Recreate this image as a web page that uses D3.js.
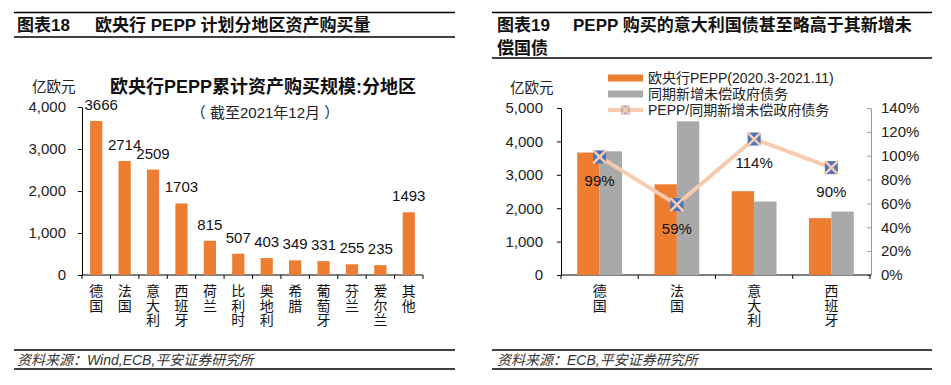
<!DOCTYPE html>
<html>
<head>
<meta charset="utf-8">
<script src="https://cdn.jsdelivr.net/npm/d3@7"></script>
<style>
  body { margin: 0; background: #fff; }
  svg { display: block; font-family: "Liberation Sans", Arial, "Noto Sans CJK SC", sans-serif; }
</style>
</head>
<body>
<svg id="chart" width="951" height="385"></svg>
<script>
// left chart: PEPP holdings by country
const regions = ["德国", "法国", "意大利", "西班牙", "荷兰", "比利时", "奥地利", "希腊", "葡萄牙", "芬兰", "爱尔兰", "其他"];
const holdings = [3666, 2714, 2509, 1703, 815, 507, 403, 349, 331, 255, 235, 1493];
const leftTicks = [0, 1000, 2000, 3000, 4000];

// right chart: PEPP vs new government debt
const countries = ["德国", "法国", "意大利", "西班牙"];
const pepp = [3666, 2714, 2509, 1703];
const newDebt = [3703, 4600, 2200, 1900];
const ratio = [0.99, 0.59, 1.14, 0.90];
const rightTicks = [0, 1000, 2000, 3000, 4000, 5000];
const pctTicks = [0, 0.2, 0.4, 0.6, 0.8, 1.0, 1.2, 1.4];
const seriesNames = ["欧央行PEPP(2020.3-2021.11)", "同期新增未偿政府债务", "PEPP/同期新增未偿政府债务"];

const orange = "#ED7D31", gray = "#A9A9A9", peach = "#F8CBAD", blue = "#4A73C0";
const cjk = "'Liberation Sans', Arial, 'Noto Sans CJK SC', sans-serif";

const svg = d3.select("#chart");

// panel frame: rules, titles, footers
function rule(x1, x2, y) {
  svg.append("line").attr("x1", x1).attr("x2", x2).attr("y1", y).attr("y2", y)
    .attr("stroke", "#000").attr("stroke-width", 1.5);
}
rule(14, 455, 12.5); rule(14, 455, 37); rule(14, 455, 350); rule(14, 455, 369);
rule(492, 932, 12.5); rule(492, 932, 58); rule(492, 932, 350); rule(492, 932, 369);

function title(x, y, t) {
  svg.append("text").attr("x", x).attr("y", y).text(t)
    .attr("font-size", 17).attr("font-weight", "bold").attr("fill", "#111");
}
title(17, 31, "图表18"); title(95, 31, "欧央行 PEPP 计划分地区资产购买量");
title(497, 31, "图表19"); title(573, 31, "PEPP 购买的意大利国债甚至略高于其新增未");
title(497, 54, "偿国债");

svg.append("text").attr("x", 17).attr("y", 365).text("资料来源：Wind,ECB,平安证券研究所")
  .attr("font-size", 14).attr("font-style", "italic").attr("fill", "#333");
svg.append("text").attr("x", 497).attr("y", 365).text("资料来源：ECB,平安证券研究所")
  .attr("font-size", 14).attr("font-style", "italic").attr("fill", "#333");

function verticalLabel(g, x, y0, label) {
  const t = g.append("text").attr("font-size", 14).attr("fill", "#111").attr("text-anchor", "middle");
  Array.from(label).forEach((ch, i) => {
    t.append("tspan").attr("x", x).attr("y", y0 + i * 14.5).text(ch);
  });
}

// ---------- left chart ----------
{
  const g = svg.append("g");
  const x = d3.scaleBand().domain(regions).range([82, 423]).paddingInner(0.57).paddingOuter(0.285);
  const y = d3.scaleLinear().domain([0, 4000]).range([275, 107]);

  g.append("g").attr("transform", "translate(82,0)")
    .call(d3.axisLeft(y).tickValues(leftTicks).tickFormat(d3.format(",")).tickSize(4).tickSizeOuter(0).tickPadding(12))
    .call(a => a.selectAll("text").attr("font-size", 15).attr("fill", "#222").attr("font-family", cjk))
    .call(a => a.selectAll("line,path").attr("stroke", "#000"));

  g.append("line").attr("x1", 82).attr("x2", 423).attr("y1", 275).attr("y2", 275).attr("stroke", "#000");
  const step = x.step();
  d3.range(regions.length + 1).forEach(i => {
    const xx = 82 + i * step;
    g.append("line").attr("x1", xx).attr("x2", xx).attr("y1", 275).attr("y2", 279).attr("stroke", "#000");
  });

  g.selectAll("rect.bar").data(holdings).join("rect").attr("class", "bar")
    .attr("x", (d, i) => x(regions[i])).attr("width", x.bandwidth())
    .attr("y", d => y(d)).attr("height", d => 275 - y(d)).attr("fill", orange);

  g.selectAll("text.val").data(holdings).join("text").attr("class", "val")
    .attr("x", (d, i) => x(regions[i]) + x.bandwidth() / 2 + (i === 0 ? 5 : 0))
    .attr("y", d => y(d) - 11).attr("text-anchor", "middle")
    .attr("font-size", 15).attr("fill", "#111").text(d => d);

  regions.forEach(r => verticalLabel(g, x(r) + x.bandwidth() / 2, 296, r));

  g.append("text").attr("x", 32).attr("y", 92).text("亿欧元").attr("font-size", 14.5).attr("fill", "#222");
  g.append("text").attr("x", 263).attr("y", 93).attr("text-anchor", "middle")
    .text("欧央行PEPP累计资产购买规模:分地区").attr("font-size", 18).attr("font-weight", "bold").attr("fill", "#111");
  g.append("text").attr("x", 265).attr("y", 118).attr("text-anchor", "middle")
    .text("（ 截至2021年12月 ）").attr("font-size", 15).attr("fill", "#222");
}

// ---------- right chart ----------
{
  const g = svg.append("g");
  const x0 = d3.scaleBand().domain(countries).range([561, 870]).paddingInner(0.42).paddingOuter(0.21);
  const x1 = d3.scaleBand().domain([0, 1]).range([0, x0.bandwidth()]);
  const y = d3.scaleLinear().domain([0, 5000]).range([275, 108]);
  const yr = d3.scaleLinear().domain([0, 1.4]).range([275, 108]);

  g.append("g").attr("transform", "translate(561,0)")
    .call(d3.axisLeft(y).tickValues(rightTicks).tickFormat(d3.format(",")).tickSize(4).tickSizeOuter(0).tickPadding(14))
    .call(a => a.selectAll("text").attr("font-size", 15).attr("fill", "#222").attr("font-family", cjk))
    .call(a => a.selectAll("line,path").attr("stroke", "#000"));

  g.append("g").attr("transform", "translate(871,0)")
    .call(d3.axisRight(yr).tickValues(pctTicks).tickFormat(d3.format(".0%")).tickSizeInner(-4).tickSizeOuter(0).tickPadding(10))
    .call(a => a.selectAll("text").attr("font-size", 15).attr("fill", "#222").attr("font-family", cjk))
    .call(a => a.selectAll("line,path").attr("stroke", "#999"));

  g.append("line").attr("x1", 561).attr("x2", 871).attr("y1", 275).attr("y2", 275).attr("stroke", "#000");
  d3.range(countries.length + 1).forEach(i => {
    const xx = 561 + i * x0.step();
    g.append("line").attr("x1", xx).attr("x2", xx).attr("y1", 275).attr("y2", 279).attr("stroke", "#000");
  });

  const series = [pepp, newDebt];
  const colors = [orange, gray];
  series.forEach((vals, s) => {
    g.selectAll("rect.s" + s).data(vals).join("rect").attr("class", "s" + s)
      .attr("x", (d, i) => x0(countries[i]) + x1(s)).attr("width", x1.bandwidth())
      .attr("y", d => y(d)).attr("height", d => 275 - y(d)).attr("fill", colors[s]);
  });

  const cx = i => x0(countries[i]) + x0.bandwidth() / 2;
  const line = d3.line().x((d, i) => cx(i)).y(d => yr(d));
  g.append("path").datum(ratio).attr("d", line).attr("fill", "none")
    .attr("stroke", peach).attr("stroke-width", 4);

  function marker(px, py, s) {
    g.append("rect").attr("x", px - s / 2).attr("y", py - s / 2).attr("width", s).attr("height", s).attr("fill", blue);
    g.append("path").attr("d", `M${px - s / 2},${py - s / 2}L${px + s / 2},${py + s / 2}M${px + s / 2},${py - s / 2}L${px - s / 2},${py + s / 2}`)
      .attr("stroke", peach).attr("stroke-width", 2.5);
  }
  ratio.forEach((d, i) => marker(cx(i), yr(d), 13));

  g.selectAll("text.pct").data(ratio).join("text").attr("class", "pct")
    .attr("x", (d, i) => cx(i)).attr("y", d => yr(d) + 29).attr("text-anchor", "middle")
    .attr("font-size", 15).attr("fill", "#111").text(d => d3.format(".0%")(d));

  countries.forEach(c => verticalLabel(g, x0(c) + x0.bandwidth() / 2, 296, c));

  g.append("text").attr("x", 510).attr("y", 93).text("亿欧元").attr("font-size", 14.5).attr("fill", "#222");

  // legend
  const lx = 608, ly = [78, 94, 110];
  g.append("rect").attr("x", lx).attr("y", ly[0] - 3.5).attr("width", 35).attr("height", 7).attr("fill", orange);
  g.append("rect").attr("x", lx).attr("y", ly[1] - 3.5).attr("width", 35).attr("height", 7).attr("fill", gray);
  g.append("line").attr("x1", lx).attr("x2", lx + 35).attr("y1", ly[2]).attr("y2", ly[2])
    .attr("stroke", peach).attr("stroke-width", 4);
  g.append("rect").attr("x", lx + 13).attr("y", ly[2] - 4.5).attr("width", 9).attr("height", 9).attr("fill", "#B7A9C4");
  g.append("path").attr("d", `M${lx + 13},${ly[2] - 4.5}l9,9M${lx + 22},${ly[2] - 4.5}l-9,9`)
    .attr("stroke", peach).attr("stroke-width", 2);
  seriesNames.forEach((n, i) => {
    g.append("text").attr("x", lx + 40).attr("y", ly[i] + 5).text(n).attr("font-size", 14).attr("fill", "#222");
  });
}
</script>
</body>
</html>
